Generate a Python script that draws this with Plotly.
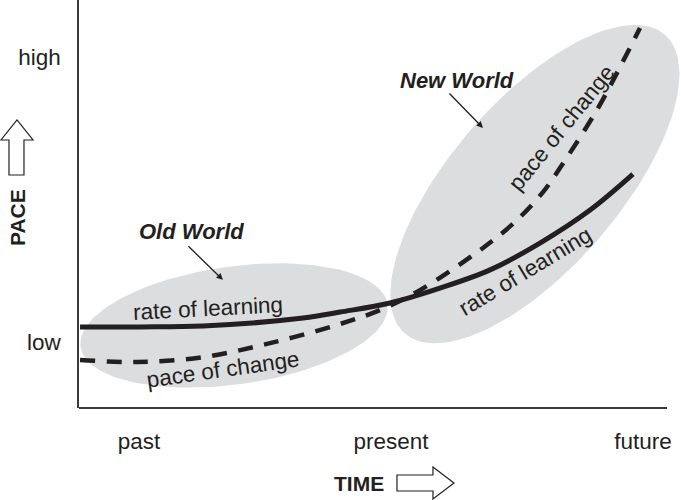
import numpy as np
import plotly.graph_objects as go

# time axis: past=0, present=1, future=2 ; pace axis: low=0, high=1
time_ticks = [0, 1, 2]
time_labels = ["past", "present", "future"]
pace_ticks = [0, 1]
pace_labels = ["low", "high"]

learn_t = [-0.234, 0.004, 0.254, 0.651, 0.798, 0.996, 1.194, 1.393, 1.591, 1.790, 1.960]
learn_p = [0.053, 0.053, 0.056, 0.084, 0.105, 0.137, 0.189, 0.253, 0.347, 0.463, 0.589]

change_t = [-0.234, -0.008, 0.254, 0.520, 0.786, 0.956, 1.115, 1.365, 1.500, 1.603, 1.671, 1.817, 1.909, 1.988]
change_p = [-0.063, -0.070, -0.053, -0.004, 0.060, 0.112, 0.182, 0.330, 0.428, 0.526, 0.611, 0.814, 0.965, 1.102]

FONT = "Liberation Sans, Arial, sans-serif"
INK = "#231f20"
GREY = "#dcddde"

W, H = 681, 500
ML, MB = 79, 92
PX_X, PX_Y = 252, 285   # pixels per data unit


def ellipse(cx, cy, a, b, ang, n=160):
    t = np.linspace(0, 2 * np.pi, n)
    th = np.radians(ang)
    dx = a * np.cos(t) * np.cos(th) - b * np.sin(t) * np.sin(th)
    dy = a * np.cos(t) * np.sin(th) + b * np.sin(t) * np.cos(th)
    return cx + dx / PX_X, cy + dy / PX_Y


def paper_path(pts):
    pw, ph = W - ML, H - MB
    s = ""
    for i, (px, py) in enumerate(pts):
        s += ("M" if i == 0 else "L") + f"{(px - ML) / pw:.4f},{(H - MB - py) / ph:.4f} "
    return s + "Z"


fig = go.Figure()

for cx, cy, a, b, ang in [(0.377, 0.058, 155, 59, 7.85), (1.571, 0.554, 198, 84, 49)]:
    ex, ey = ellipse(cx, cy, a, b, ang)
    fig.add_trace(go.Scatter(x=ex, y=ey, mode="lines", fill="toself", fillcolor=GREY,
                             line=dict(width=0), hoverinfo="skip"))

fig.add_trace(go.Scatter(x=change_t, y=change_p, mode="lines",
                         line=dict(color=INK, width=4.5, dash="15px,11.5px", shape="spline")))
fig.add_trace(go.Scatter(x=learn_t, y=learn_p, mode="lines",
                         line=dict(color=INK, width=5, shape="spline")))

lab = dict(family=FONT, size=22.5, color=INK)
for x, y, txt, ang in [(0.274, 0.116, "rate of learning", -3),
                       (0.333, -0.095, "pace of change", -8),
                       (1.532, 0.249, "rate of learning", -31),
                       (1.679, 0.751, "pace of change", -51)]:
    fig.add_annotation(x=x, y=y, text=txt, textangle=ang, showarrow=False, font=lab)

bold = dict(family=FONT, size=22, color=INK)
fig.add_annotation(x=0.210, y=0.386, text="<b><i>Old World</i></b>", showarrow=False, font=bold)
fig.add_annotation(x=1.262, y=0.919, text="<b><i>New World</i></b>", showarrow=False, font=bold)
for x, y, ax, ay in [(0.333, 0.218, -36, -35), (1.365, 0.751, -35, -36)]:
    fig.add_annotation(x=x, y=y, ax=ax, ay=ay, text="", showarrow=True,
                       arrowhead=2, arrowsize=1, arrowwidth=1.3, arrowcolor=INK)

fig.add_annotation(xref="paper", yref="paper", x=(359 - ML) / (W - ML), y=(408 - 483) / 408,
                   xanchor="center", yanchor="middle",
                   text="<b>TIME</b>", showarrow=False, font=dict(family=FONT, size=21, color=INK))
fig.add_annotation(xref="paper", yref="paper", x=(17 - ML) / (W - ML), y=(408 - 218) / 408,
                   xanchor="center", yanchor="middle",
                   text="<b>PACE</b>", textangle=-90, showarrow=False,
                   font=dict(family=FONT, size=21, color=INK))

# hollow arrows beside axis titles
right_arrow = [(397, 475), (433, 475), (433, 467), (454, 483), (433, 499), (433, 491), (397, 491)]
up_arrow = [(9, 175), (9, 140), (1, 140), (17, 120), (33, 140), (24, 140), (24, 175)]
for pts in [right_arrow, up_arrow]:
    fig.add_shape(type="path", xref="paper", yref="paper", path=paper_path(pts),
                  line=dict(color=INK, width=1.2), fillcolor="white")

# x axis line stops short of the right edge
fig.add_shape(type="line", xref="paper", yref="paper", x0=0, x1=(667 - ML) / (W - ML), y0=0, y1=0,
              line=dict(color="#3a3a3a", width=1.8))

fig.update_xaxes(range=[(ML - 139) / PX_X, (W - 139) / PX_X], tickvals=time_ticks, ticktext=time_labels,
                 showgrid=False, zeroline=False, showline=False, ticks="", automargin=False,
                 ticklabelstandoff=17, tickfont=dict(family=FONT, size=22.5, color=INK))
fig.update_yaxes(range=[(342 - 408) / PX_Y, 342 / PX_Y], tickvals=pace_ticks, ticktext=pace_labels,
                 showgrid=False, zeroline=False, showline=True, linecolor="#3a3a3a", linewidth=1.5,
                 ticks="", automargin=False, ticklabelstandoff=12,
                 tickfont=dict(family=FONT, size=22.5, color=INK))

fig.update_layout(width=W, height=H, margin=dict(l=ML, r=0, t=0, b=MB, autoexpand=False),
                  plot_bgcolor="white", paper_bgcolor="white", showlegend=False)

fig.write_html("out.html", config={"displayModeBar": False},
               post_script="document.body.style.margin='0';")
